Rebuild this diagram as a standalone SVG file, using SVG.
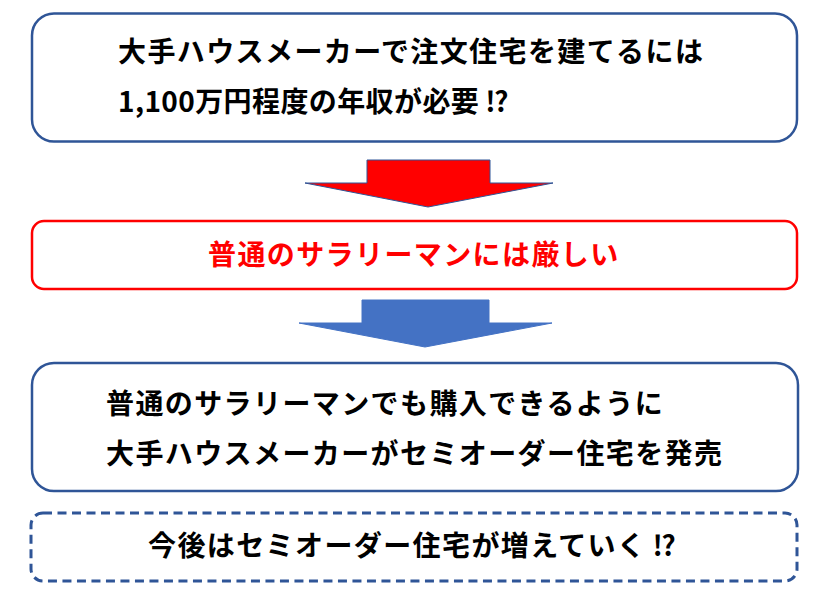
<svg xmlns="http://www.w3.org/2000/svg" width="828" height="601" viewBox="0 0 828 601">
<style>
.box{fill:#ffffff;stroke:#2F5597;stroke-width:2.5}
.red{fill:#ffffff;stroke:#FF0000;stroke-width:2.5}
.dash{fill:#ffffff;stroke:#2F5597;stroke-width:3;stroke-dasharray:9 5.5}
.t{font-family:"Noto Sans CJK JP","Noto Sans CJK SC",sans-serif;font-weight:bold;font-size:28px;letter-spacing:1.4px;fill:#000000}
.tr{fill:#FF0000}
</style>
<rect width="828" height="601" fill="#ffffff"/>
<g id="node1">
<rect class="box" x="32" y="13.5" width="765" height="128" rx="22"/>
<text class="t" x="118" y="62">大手ハウスメーカーで注文住宅を建てるには</text>
<text class="t" x="118" y="112" style="letter-spacing:0.4px">1,100万円程度の年収が必要<tspan dx="6">⁉</tspan></text>
</g>
<g id="connectors">
<polygon points="367,160 490,160 490,183 553,183 428,207 305,183 367,183" fill="#FF0000" stroke="#2F5597" stroke-width="1"/>
<polygon points="362,300 489,300 489,323 552,323 425,347 299,323 362,323" fill="#4472C4" stroke="#4472C4" stroke-width="1"/>
</g>
<g id="node2">
<rect class="red" x="32" y="221" width="765" height="68" rx="12"/>
<text class="t tr" x="208" y="265">普通のサラリーマンには厳しい</text>
</g>
<g id="node3">
<rect class="box" x="32" y="363" width="766" height="128" rx="22"/>
<text class="t" x="106" y="414">普通のサラリーマンでも購入できるように</text>
<text class="t" x="106" y="464">大手ハウスメーカーがセミオーダー住宅を発売</text>
</g>
<g id="node4">
<rect class="dash" x="31" y="513" width="766" height="68" rx="12"/>
<text class="t" x="148" y="556">今後はセミオーダー住宅が増えていく<tspan dx="6">⁉</tspan></text>
</g>
</svg>
